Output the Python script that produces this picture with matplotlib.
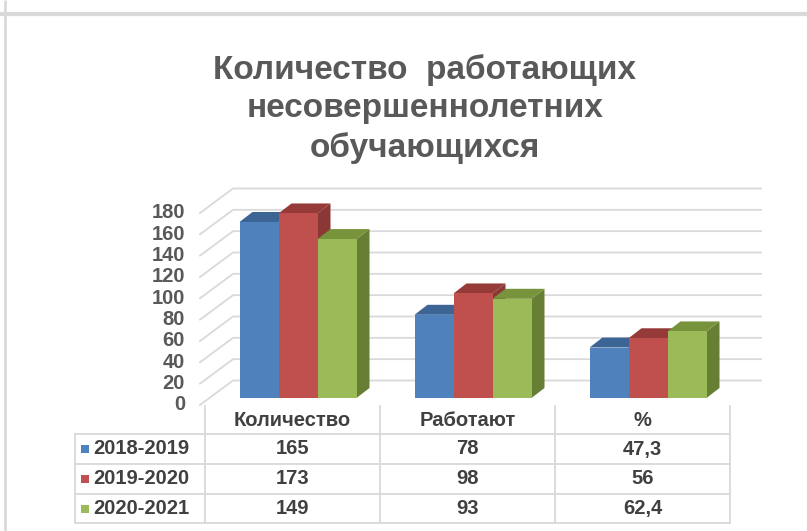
import matplotlib
matplotlib.use("Agg")
import matplotlib.pyplot as plt
from matplotlib.patches import Polygon, Rectangle
import numpy as np

plt.rcParams['font.family'] = ['Liberation Sans', 'DejaVu Sans']

# ---- data ----
categories = ["Количество", "Работают", "%"]
series_names = ["2018-2019", "2019-2020", "2020-2021"]
values_2018 = [165, 78, 47.3]
values_2019 = [173, 98, 56]
values_2020 = [149, 93, 62.4]
series_values = [values_2018, values_2019, values_2020]
yticks = list(range(0, 181, 20))
title_lines = ["Количество  работающих", "несовершеннолетних", "обучающихся"]

front_cols = ["#4f81bd", "#c0504d", "#9bbb59"]
top_cols = ["#3c6595", "#953a38", "#77933c"]
side_cols = ["#385d8a", "#8a3735", "#677f35"]
grid_col = "#d9d9d9"
text_col = "#595959"

W, H = 807, 531
fig = plt.figure(figsize=(W / 100, H / 100), dpi=100)

# overlay axes in pixel coordinates for frame/table
ov = fig.add_axes([0, 0, 1, 1])
ov.set_xlim(0, W)
ov.set_ylim(H, 0)
ov.axis("off")
ov.plot([0, W], [13.5, 13.5], color=grid_col, lw=3, solid_capstyle="butt")
ov.plot([5, 5], [0, H], color=grid_col, lw=2, solid_capstyle="butt")

for i, line in enumerate(title_lines):
    ov.text(425, 70 + 39 * i, line, ha="center", va="center", fontsize=24,
            fontweight="bold", color=text_col)

# ---- main chart axes ----
px_l, px_r, px_t, px_b = 195, 770, 180, 412
ax = fig.add_axes([px_l / W, (H - px_b) / H, (px_r - px_l) / W, (px_b - px_t) / H])
ax.axis("off")
ky = 192 / 180.0     # px per unit
kx = 175.0           # px per category
x0px, y0px = 298, 398
ax.set_xlim((px_l - x0px) / kx, (px_r - x0px) / kx)
ax.set_ylim(-(px_b - y0px) / ky, (y0px - px_t) / ky)

dx = 13 / kx
dy = 10 / ky
front_off = -7 / ky
back_off = 17.5 / ky
x_front = (200 - x0px) / kx
x_back = (233 - x0px) / kx
x_right = (761 - x0px) / kx

for v in yticks:
    ax.plot([x_front, x_back, x_right], [v + front_off, v + back_off, v + back_off],
            color=grid_col, lw=1.3, zorder=1, clip_on=False)
    ax.text((185 - x0px) / kx, v + front_off, str(v), ha="right", va="center",
            fontsize=14.5, fontweight="bold", color=text_col, clip_on=False)

bw = 39 / kx
xc = np.arange(len(categories))
for c in range(len(categories)):
    for s in range(len(series_values)):
        v = series_values[s][c]
        xl = xc[c] + (s - 1.5) * bw
        xr = xl + bw
        z = 3 + s
        side = Polygon([[xr, 0], [xr + dx, dy], [xr + dx, v + dy], [xr, v]],
                       closed=True, facecolor=side_cols[s], edgecolor="none", zorder=z)
        top = Polygon([[xl, v], [xl + dx, v + dy], [xr + dx, v + dy], [xr, v]],
                      closed=True, facecolor=top_cols[s], edgecolor="none", zorder=z)
        ax.add_patch(side)
        ax.add_patch(top)

for s in range(len(series_values)):
    ax.bar(xc + (s - 1) * bw, series_values[s], width=bw, color=front_cols[s],
           edgecolor="none", zorder=3 + s + 0.5)

# ---- data table ----
tl, cols_x = 75, [205, 380, 555, 730]
rows_y = [434, 464, 494, 523]
lw = 1.3
for x in cols_x:
    ov.plot([x, x], [406, rows_y[-1]], color=grid_col, lw=lw)
ov.plot([tl, tl], [rows_y[0], rows_y[-1]], color=grid_col, lw=lw)
for y in rows_y:
    ov.plot([tl, cols_x[-1]], [y, y], color=grid_col, lw=lw)

tcol = "#404040"
fs = 14.5
for c, name in enumerate(categories):
    cx = (cols_x[c] + cols_x[c + 1]) / 2
    ov.text(cx, 421, name, ha="center", va="center", fontsize=fs,
            fontweight="bold", color=tcol)
for s, name in enumerate(series_names):
    cy = (rows_y[s] + rows_y[s + 1]) / 2
    ov.add_patch(Rectangle((81, cy - 4), 8, 8, facecolor=front_cols[s], edgecolor="none"))
    ov.text(93, cy, name, ha="left", va="center", fontsize=fs, fontweight="bold", color=tcol)
    for c in range(len(categories)):
        cx = (cols_x[c] + cols_x[c + 1]) / 2
        txt = f"{series_values[s][c]:g}".replace(".", ",")
        ov.text(cx, cy, txt, ha="center", va="center", fontsize=fs,
                fontweight="bold", color=tcol)

fig.savefig("out.png", dpi=100)
